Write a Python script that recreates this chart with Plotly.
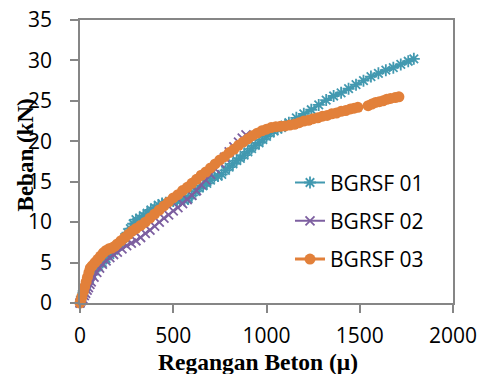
import plotly.graph_objects as go

# BGRSF 01 (teal)
s1_x = [0, 10, 20, 35, 50, 65, 80, 100, 120, 140, 160, 180, 200, 220, 240, 255, 270, 285, 300, 320, 340, 360, 380, 400, 420, 440, 460, 480, 500, 520, 540, 560, 580, 600, 620, 640, 660, 680, 700, 720, 740, 760, 780, 800, 820, 840, 860, 880, 900, 920, 940, 960, 980, 1000, 1020, 1040, 1060, 1080, 1100, 1120, 1160, 1200, 1240, 1280, 1320, 1360, 1400, 1440, 1480, 1520, 1560, 1600, 1640, 1680, 1720, 1760, 1790]
s1_y = [0, 0.8, 1.5, 2.3, 3.0, 3.5, 4.0, 4.5, 5.0, 5.5, 6.0, 6.5, 7.0, 7.5, 8.1, 8.7, 9.2, 9.8, 10.3, 10.5, 10.8, 11.1, 11.5, 11.8, 12.1, 12.3, 12.4, 12.5, 12.6, 12.6, 12.7, 12.7, 12.9, 13.3, 13.8, 14.2, 14.5, 14.8, 15.2, 15.6, 15.7, 15.9, 16.4, 16.8, 17.2, 17.6, 17.9, 18.3, 18.7, 19.1, 19.5, 19.8, 20.2, 20.6, 21.0, 21.3, 21.5, 21.7, 22.0, 22.3, 22.9, 23.4, 23.9, 24.5, 25.1, 25.6, 26.0, 26.5, 27.0, 27.5, 28.0, 28.4, 28.8, 29.1, 29.5, 29.9, 30.2]

# BGRSF 02 (purple)
s2_x = [0, 8, 15, 23, 30, 38, 45, 53, 60, 75, 90, 105, 120, 140, 160, 180, 200, 225, 250, 275, 300, 325, 350, 375, 400, 425, 450, 475, 500, 525, 550, 575, 600, 625, 650, 675, 700, 725, 750, 775, 800, 825, 850, 870, 890]
s2_y = [0, 0.3, 0.5, 0.9, 1.2, 1.6, 1.9, 2.3, 2.6, 3.2, 3.8, 4.3, 4.8, 5.2, 5.6, 6.0, 6.3, 6.7, 7.1, 7.4, 7.7, 8.1, 8.6, 9.0, 9.5, 10.0, 10.5, 10.9, 11.4, 11.8, 12.3, 12.8, 13.3, 13.9, 14.6, 15.2, 15.9, 16.6, 17.3, 18.0, 18.7, 19.3, 19.9, 20.4, 20.8]

# BGRSF 03 (orange)
s3_x = [0, 5, 10, 18, 25, 33, 40, 48, 55, 65, 80, 95, 110, 125, 140, 155, 170, 185, 200, 220, 240, 260, 280, 300, 325, 350, 375, 400, 425, 450, 475, 500, 525, 550, 575, 600, 625, 650, 675, 700, 725, 750, 775, 800, 825, 850, 875, 900, 925, 950, 975, 1000, 1025, 1050, 1075, 1100, 1125, 1150, 1175, 1200, 1225, 1250, 1275, 1300, 1325, 1350, 1375, 1400, 1425, 1450, 1470, 1490, 1545, 1565, 1585, 1605, 1625, 1645, 1665, 1690, 1710]
s3_y = [0, 0.4, 0.8, 1.4, 2.0, 2.6, 3.2, 3.8, 4.3, 4.6, 5.0, 5.4, 5.8, 6.2, 6.5, 6.7, 6.8, 7.0, 7.3, 7.7, 8.1, 8.5, 8.9, 9.2, 9.6, 10.0, 10.5, 11.0, 11.5, 12.0, 12.5, 13.0, 13.4, 13.9, 14.3, 14.8, 15.3, 15.8, 16.2, 16.7, 17.2, 17.7, 18.1, 18.6, 19.0, 19.5, 19.9, 20.3, 20.7, 21.0, 21.3, 21.5, 21.7, 21.8, 21.85, 21.9, 22.0, 22.1, 22.3, 22.5, 22.6, 22.8, 22.9, 23.1, 23.2, 23.4, 23.5, 23.7, 23.8, 24.0, 24.1, 24.2, 24.4, 24.6, 24.8, 24.9, 25.0, 25.2, 25.3, 25.4, 25.5]

names = ["BGRSF 01", "BGRSF 02", "BGRSF 03"]
colors = ["#4299B0", "#7D5FA0", "#E2803A"]

x_ticks = [0, 500, 1000, 1500, 2000]
y_ticks = [0, 5, 10, 15, 20, 25, 30, 35]

fig = go.Figure()
fig.add_trace(go.Scatter(x=s1_x, y=s1_y, name=names[0], mode="lines+markers",
                         line=dict(color=colors[0], width=2),
                         marker=dict(symbol="asterisk-open", size=10, color=colors[0],
                                     line=dict(color=colors[0], width=1.8)),
                         legendgroup="a", cliponaxis=False))
fig.add_trace(go.Scatter(x=s2_x, y=s2_y, name=names[1], mode="lines+markers",
                         line=dict(color=colors[1], width=2),
                         marker=dict(symbol="x-thin-open", size=9, color=colors[1],
                                     line=dict(color=colors[1], width=1.8)),
                         legendgroup="b", cliponaxis=False))
fig.add_trace(go.Scatter(x=s3_x, y=s3_y, name=names[2], mode="lines+markers",
                         line=dict(color=colors[2], width=3),
                         marker=dict(symbol="circle", size=11, color=colors[2]),
                         legendgroup="c", cliponaxis=False))

axis_common = dict(showline=True, linecolor="#868686", linewidth=1.5, mirror=True,
                   showgrid=False, zeroline=False, ticks="outside", ticklen=8,
                   tickcolor="#868686", tickwidth=1.5, automargin=False,
                   tickfont=dict(family="Open Sans", size=21, color="black"))

fig.update_layout(
    width=484, height=374,
    margin=dict(l=80, r=31, t=20, b=71),
    paper_bgcolor="white", plot_bgcolor="white",
    xaxis=dict(range=[0, 2000], tickvals=x_ticks, ticklabelstandoff=5, **axis_common),
    yaxis=dict(range=[0, 35], tickvals=y_ticks, ticklabelstandoff=14, **axis_common),
    showlegend=True,
    legend=dict(x=0.563, y=0.497, xanchor="left", yanchor="top",
                bgcolor="rgba(0,0,0,0)", tracegroupgap=8, traceorder="grouped",
                font=dict(family="Open Sans", size=21, color="black")),
    annotations=[
        dict(text="<b>Regangan Beton (μ)</b>", xref="paper", yref="paper",
             x=0.478, y=-0.208, xanchor="center", yanchor="middle", showarrow=False,
             font=dict(family="Liberation Serif", size=23.5, color="black")),
        dict(text="<b>Beban (kN)</b>", xref="paper", yref="paper",
             x=-0.147, y=0.522, xanchor="center", yanchor="middle", showarrow=False,
             textangle=-90,
             font=dict(family="Liberation Serif", size=23, color="black")),
    ],
)

fig.write_html("out.html", config={"displayModeBar": False},
               post_script="document.body.style.margin='0px';document.body.style.overflow='hidden';")
